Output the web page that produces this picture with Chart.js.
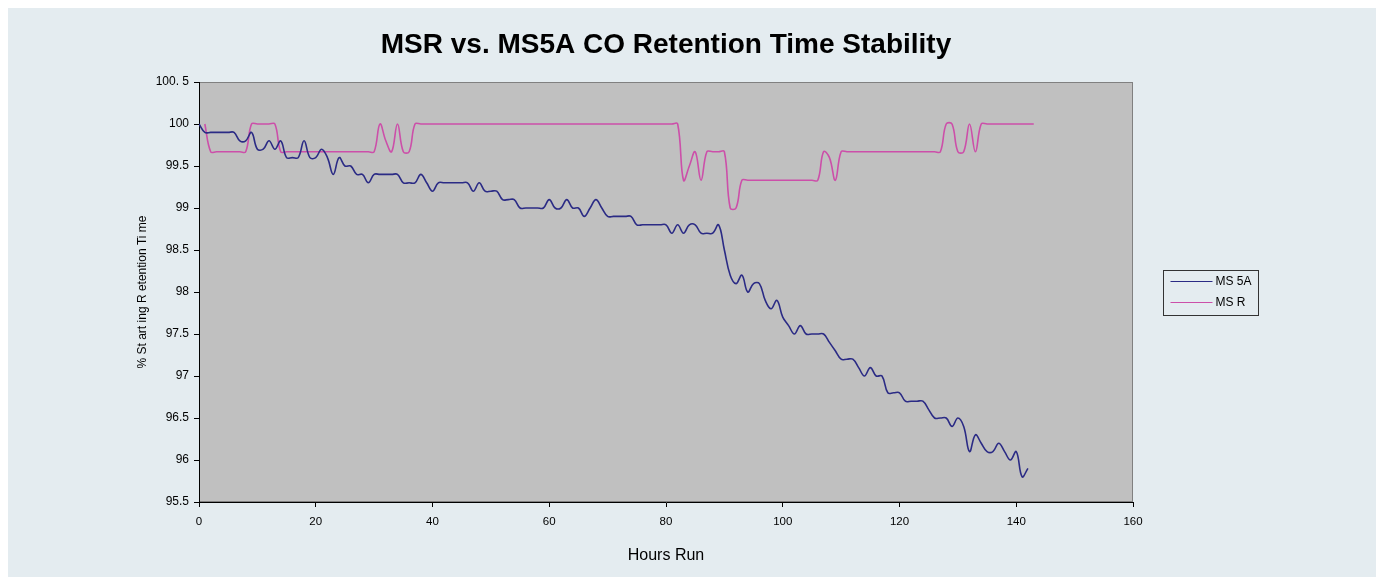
<!DOCTYPE html>
<html>
<head>
<meta charset="utf-8">
<title>MSR vs. MS5A CO Retention Time Stability</title>
<script src="https://cdn.jsdelivr.net/npm/chart.js@4.4.0/dist/chart.umd.min.js"></script>
<style>
  html, body { margin: 0; padding: 0; background: #fff; }
  #panel { position: absolute; left: 8px; top: 8px; width: 1368px; height: 569px; background: #e4ecf0; }
  #wrap { position: absolute; left: 0; top: 0; width: 1384px; height: 577px; }
</style>
</head>
<body>
<div id="panel"></div>
<div id="wrap"><canvas id="myChart" width="1384" height="577"></canvas></div>
<script>
// hours run and % of starting retention time (rows of 10)
var hoursMS5A = [
    0,   1,   2,   3,   4,   5,   6,   7,   8,   9,
   10,  11,  12,  13,  14,  15,  16,  17,  18,  19,
   20,  21,  22,  23,  24,  25,  26,  27,  28,  29,
   30,  31,  32,  33,  34,  35,  36,  37,  38,  39,
   40,  41,  42,  43,  44,  45,  46,  47,  48,  49,
   50,  51,  52,  53,  54,  55,  56,  57,  58,  59,
   60,  61,  62,  63,  64,  65,  66,  67,  68,  69,
   70,  71,  72,  73,  74,  75,  76,  77,  78,  79,
   80,  81,  82,  83,  84,  85,  86,  87,  88,  89,
   90,  91,  92,  93,  94,  95,  96,  97,  98,  99,
  100, 101, 102, 103, 104, 105, 106, 107, 108, 109,
  110, 111, 112, 113, 114, 115, 116, 117, 118, 119,
  120, 121, 122, 123, 124, 125, 126, 127, 128, 129,
  130, 131, 132, 133, 134, 135, 136, 137, 138, 139,
  140, 141, 142];
var valuesMS5A = [
  100,  99.9, 99.9, 99.9, 99.9, 99.9, 99.9, 99.8, 99.8, 99.9,
  99.7, 99.7, 99.8, 99.7, 99.8, 99.6, 99.6, 99.6, 99.8, 99.6,
  99.6, 99.7, 99.6, 99.4, 99.6, 99.5, 99.5, 99.4, 99.4, 99.3,
  99.4, 99.4, 99.4, 99.4, 99.4, 99.3, 99.3, 99.3, 99.4, 99.3,
  99.2, 99.3, 99.3, 99.3, 99.3, 99.3, 99.3, 99.2, 99.3, 99.2,
  99.2, 99.2, 99.1, 99.1, 99.1, 99.0, 99.0, 99.0, 99.0, 99.0,
  99.1, 99.0, 99.0, 99.1, 99.0, 99.0, 98.9, 99.0, 99.1, 99.0,
  98.9, 98.9, 98.9, 98.9, 98.9, 98.8, 98.8, 98.8, 98.8, 98.8,
  98.8, 98.7, 98.8, 98.7, 98.8, 98.8, 98.7, 98.7, 98.7, 98.8,
  98.5, 98.2, 98.1, 98.2, 98.0, 98.1, 98.1, 97.9, 97.8, 97.9,
  97.7, 97.6, 97.5, 97.6, 97.5, 97.5, 97.5, 97.5, 97.4, 97.3,
  97.2, 97.2, 97.2, 97.1, 97.0, 97.1, 97.0, 97.0, 96.8, 96.8,
  96.8, 96.7, 96.7, 96.7, 96.7, 96.6, 96.5, 96.5, 96.5, 96.4,
  96.5, 96.4, 96.1, 96.3, 96.2, 96.1, 96.1, 96.2, 96.1, 96.0,
  96.1, 95.8, 95.9];

var hoursMSR = [
    1,   2,   3,   4,   5,   6,   7,   8,   9,  10,
   11,  12,  13,  14,  15,  16,  17,  18,  19,  20,
   21,  22,  23,  24,  25,  26,  27,  28,  29,  30,
   31,  32,  33,  34,  35,  36,  37,  38,  39,  40,
   41,  42,  43,  44,  45,  46,  47,  48,  49,  50,
   51,  52,  53,  54,  55,  56,  57,  58,  59,  60,
   61,  62,  63,  64,  65,  66,  67,  68,  69,  70,
   71,  72,  73,  74,  75,  76,  77,  78,  79,  80,
   81,  82,  83,  84,  85,  86,  87,  88,  89,  90,
   91,  92,  93,  94,  95,  96,  97,  98,  99, 100,
  101, 102, 103, 104, 105, 106, 107, 108, 109, 110,
  111, 112, 113, 114, 115, 116, 117, 118, 119, 120,
  121, 122, 123, 124, 125, 126, 127, 128, 129, 130,
  131, 132, 133, 134, 135, 136, 137, 138, 139, 140,
  141, 142, 143];
var valuesMSR = [
  100,   99.67, 99.67, 99.67, 99.67, 99.67, 99.67, 99.67, 100,   100,
  100,   100,   100,   99.67, 99.67, 99.67, 99.67, 99.67, 99.67, 99.67,
  99.67, 99.67, 99.67, 99.67, 99.67, 99.67, 99.67, 99.67, 99.67, 99.67,
  100,   99.8,  99.67, 100,   99.67, 99.67, 100,   100,   100,   100,
  100,   100,   100,   100,   100,   100,   100,   100,   100,   100,
  100,   100,   100,   100,   100,   100,   100,   100,   100,   100,
  100,   100,   100,   100,   100,   100,   100,   100,   100,   100,
  100,   100,   100,   100,   100,   100,   100,   100,   100,   100,
  100,   100,   99.33, 99.5,  99.67, 99.33, 99.67, 99.67, 99.67, 99.67,
  99.0,  99.0,  99.33, 99.33, 99.33, 99.33, 99.33, 99.33, 99.33, 99.33,
  99.33, 99.33, 99.33, 99.33, 99.33, 99.33, 99.67, 99.6,  99.33, 99.67,
  99.67, 99.67, 99.67, 99.67, 99.67, 99.67, 99.67, 99.67, 99.67, 99.67,
  99.67, 99.67, 99.67, 99.67, 99.67, 99.67, 99.67, 100,   100,   99.67,
  99.67, 100,   99.67, 100,   100,   100,   100,   100,   100,   100,
  100,   100,   100];

var seriesNames = ['MS 5A', 'MS R'];
var yTickLabels = ['95.5', '96', '96.5', '97', '97.5', '98', '98.5', '99', '99.5', '100', '100. 5'];

function points(xs, ys) {
    var out = [];
    for (var i = 0; i < xs.length; i++) out.push({x: xs[i], y: ys[i]});
    return out;
}

// grey plot area with a thin grey frame
var plotArea = {
    id: 'plotArea',
    beforeDraw: function(chart) {
        var a = chart.chartArea, ctx = chart.ctx;
        ctx.save();
        ctx.fillStyle = '#c0c0c0';
        ctx.fillRect(a.left, a.top, a.right - a.left, a.bottom - a.top);
        ctx.strokeStyle = '#808080';
        ctx.lineWidth = 1;
        ctx.strokeRect(a.left + 0.5, a.top + 0.5, a.right - a.left - 1, a.bottom - a.top - 1);
        ctx.restore();
    }
};

// boxed legend to the right of the plot
var boxLegend = {
    id: 'boxLegend',
    afterDraw: function(chart) {
        var ctx = chart.ctx, a = chart.chartArea;
        var x = a.right + 30.5, y = 270.5, w = 95, h = 45;
        ctx.save();
        ctx.strokeStyle = '#333';
        ctx.lineWidth = 1;
        ctx.strokeRect(x, y, w, h);
        ctx.font = '12px "Liberation Sans", Arial, sans-serif';
        ctx.textBaseline = 'middle';
        chart.data.datasets.forEach(function(ds, i) {
            var ly = 281.5 + i * 21;
            ctx.strokeStyle = ds.borderColor;
            ctx.lineWidth = 1.2;
            ctx.beginPath();
            ctx.moveTo(x + 7, ly);
            ctx.lineTo(x + 49, ly);
            ctx.stroke();
            ctx.fillStyle = '#000';
            ctx.fillText(ds.label, x + 52, ly);
        });
        ctx.restore();
    }
};

function main() {
    Chart.defaults.font.family = '"Liberation Sans", Arial, sans-serif';
    Chart.defaults.color = '#000';
    var ctx = document.getElementById('myChart').getContext('2d');
    var myLineChart = new Chart(ctx, {
        type: 'line',
        data: {
            datasets: [{
                label: seriesNames[0],
                data: points(hoursMS5A, valuesMS5A),
                borderColor: '#2b2b85',
                borderWidth: 1.6,
                pointRadius: 0,
                tension: 0.4,
                fill: false
            }, {
                label: seriesNames[1],
                data: points(hoursMSR, valuesMSR),
                borderColor: '#cc4fa9',
                borderWidth: 1.6,
                pointRadius: 0,
                tension: 0.4,
                fill: false
            }]
        },
        options: {
            responsive: false,
            animation: false,
            layout: {padding: {left: 130, right: 251, top: 0, bottom: 0}},
            plugins: {
                legend: {display: false},
                tooltip: {enabled: false},
                title: {
                    display: true,
                    text: 'MSR vs. MS5A CO Retention Time Stability',
                    fullSize: false,
                    color: '#000',
                    font: {size: 28, weight: 'bold'},
                    padding: {top: 28.2, bottom: 20.2}
                }
            },
            scales: {
                x: {
                    type: 'linear',
                    min: 0,
                    max: 160,
                    ticks: {stepSize: 20, font: {size: 11.5}, color: '#000', padding: 8, maxRotation: 0},
                    grid: {drawOnChartArea: false, color: '#000', tickLength: 5},
                    border: {color: '#000'},
                    title: {display: true, text: 'Hours Run', font: {size: 16}, color: '#000', padding: {top: 0, bottom: 12}},
                    afterFit: function(s) { s.height = 75; }
                },
                y: {
                    min: 95.5,
                    max: 100.5,
                    ticks: {
                        stepSize: 0.5,
                        font: {size: 12},
                        color: '#000',
                        padding: 5,
                        callback: function(v) {
                            var i = Math.round((v - 95.5) / 0.5);
                            return yTickLabels[i];
                        }
                    },
                    grid: {drawOnChartArea: false, color: '#000', tickLength: 5},
                    border: {color: '#000'},
                    title: {display: true, text: '% St art ing R etention Ti me', font: {size: 12}, color: '#000', padding: {top: 5, bottom: 0}},
                    afterFit: function(s) { s.width = 69; }
                }
            }
        },
        plugins: [plotArea, boxLegend]
    });
}

document.addEventListener("DOMContentLoaded", function(event) {
    main();
});
</script>
</body>
</html>
